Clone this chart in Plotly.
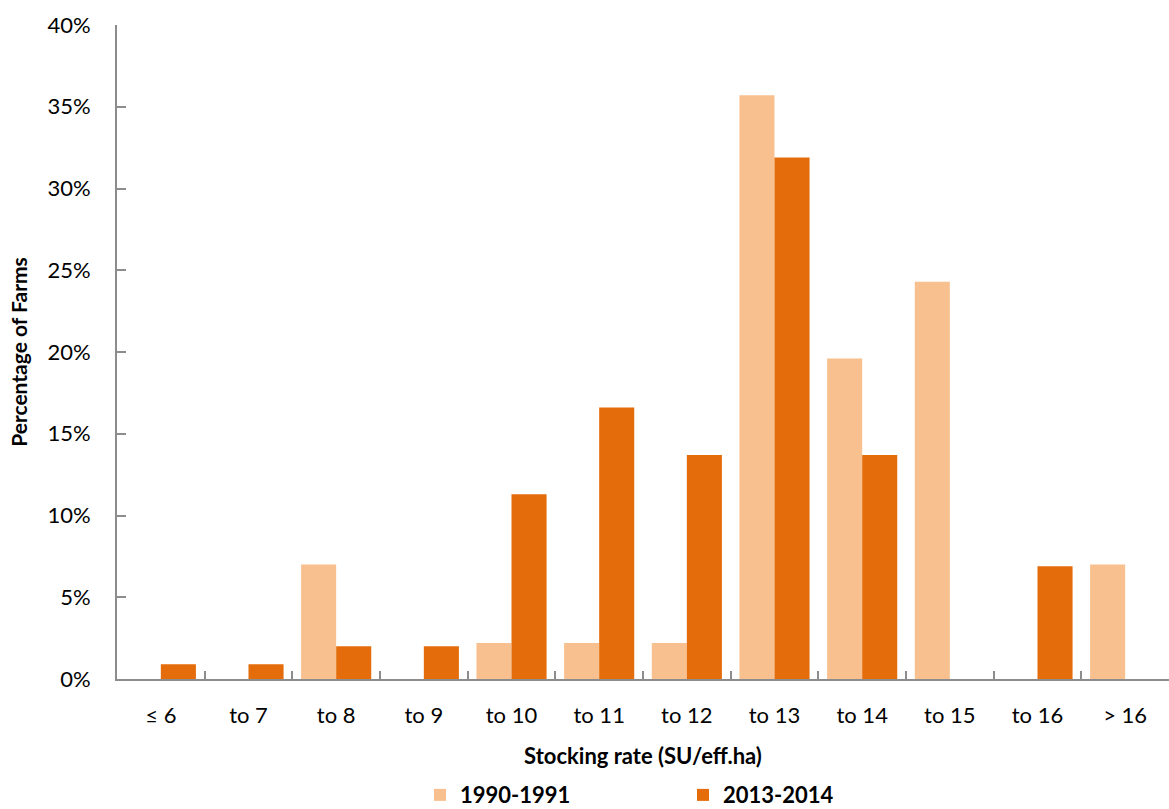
import plotly.graph_objects as go

# Stocking-rate bands (SU per effective hectare)
categories = ["≤ 6", "to 7", "to 8", "to 9", "to 10", "to 11", "to 12",
              "to 13", "to 14", "to 15", "to 16", "> 16"]

# Share of farms in each band, as fractions
farms_1990_1991 = [0.0, 0.0, 0.070, 0.0, 0.022, 0.022, 0.022,
                   0.357, 0.196, 0.243, 0.0, 0.070]
farms_2013_2014 = [0.009, 0.009, 0.020, 0.020, 0.113, 0.166, 0.137,
                   0.319, 0.137, 0.0, 0.069, 0.0]

series_names = ["1990-1991", "2013-2014"]
series_colors = ["#F9C08F", "#E46C0A"]

FONT = "Lato"
AXIS_GREY = "#8C8C8C"

fig = go.Figure()
for name, vals, col in zip(series_names, [farms_1990_1991, farms_2013_2014], series_colors):
    fig.add_trace(go.Bar(
        x=categories, y=vals, name=name,
        marker=dict(color=col, line=dict(width=0)),
    ))

fig.update_layout(
    width=1169, height=809,
    margin=dict(l=117, r=0, t=25, b=130, autoexpand=False),
    paper_bgcolor="white", plot_bgcolor="white",
    barmode="group", bargap=0.2, bargroupgap=0.0,
    font=dict(family=FONT, size=22, color="#000000"),
    legend=dict(
        orientation="h", x=0.538, xanchor="center", y=-0.1775, yanchor="middle",
        entrywidth=218, entrywidthmode="pixels",
        font=dict(family=FONT, size=22, color="#000000", weight="bold"),
        itemsizing="constant",
    ),
)

fig.update_xaxes(
    type="category", range=[-0.5, 11.5],
    showline=True, linecolor=AXIS_GREY, linewidth=2,
    ticks="inside", tickson="boundaries", ticklen=8, tickcolor=AXIS_GREY, tickwidth=2,
    showgrid=False, zeroline=False,
    tickfont=dict(family=FONT, size=22),
    ticklabelstandoff=16,
    title=dict(text="<b>Stocking rate (SU/eff.ha)</b>", standoff=21,
               font=dict(family=FONT, size=22)),
)

fig.update_yaxes(
    range=[0, 0.4], dtick=0.05, tickformat=".0%",
    showline=True, linecolor=AXIS_GREY, linewidth=2,
    ticks="inside", ticklen=9, tickcolor=AXIS_GREY, tickwidth=2,
    showgrid=False, zeroline=False,
    tickfont=dict(family=FONT, size=22),
    ticklabelstandoff=20,
    title=dict(text="<b>Percentage of Farms</b>", standoff=14,
               font=dict(family=FONT, size=21)),
)

fig.write_html("out.html")
